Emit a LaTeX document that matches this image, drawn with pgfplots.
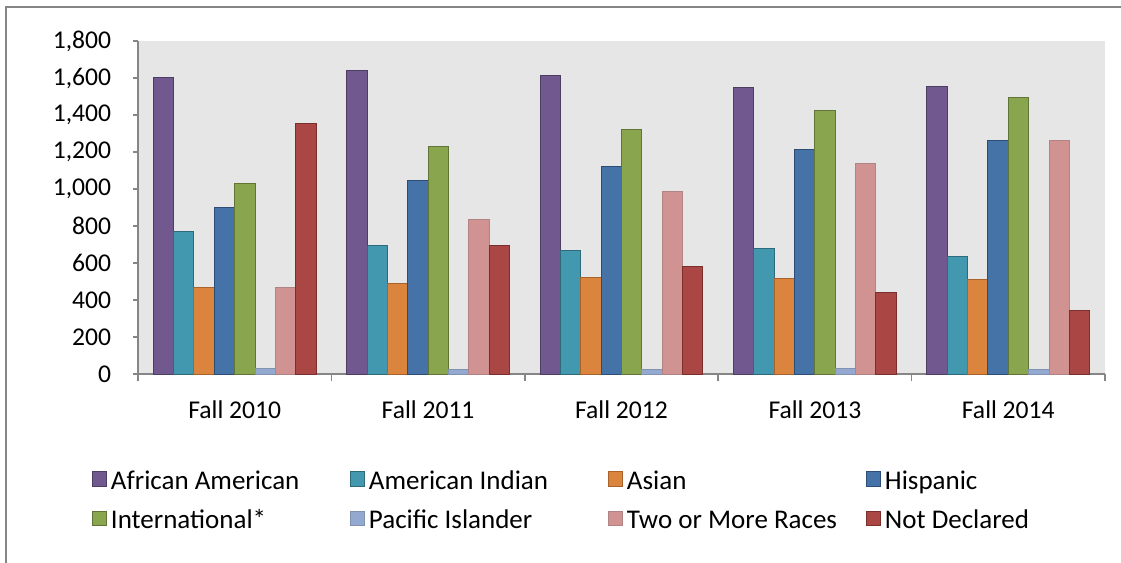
\documentclass[border=0pt]{standalone}
\usepackage{fontspec}
\setmainfont{Carlito}
\usepackage{pgfplots}
\pgfplotsset{compat=1.18}
\definecolor{axisgray}{HTML}{868686}
\definecolor{plotbg}{HTML}{E6E6E6}
\definecolor{cAA}{HTML}{71588F}\definecolor{dAA}{HTML}{4E3D63}
\definecolor{cAI}{HTML}{4198AF}\definecolor{dAI}{HTML}{2D6A7A}
\definecolor{cAS}{HTML}{DB843D}\definecolor{dAS}{HTML}{A9622A}
\definecolor{cHI}{HTML}{4572A7}\definecolor{dHI}{HTML}{2C4D75}
\definecolor{cIN}{HTML}{89A54E}\definecolor{dIN}{HTML}{5F7435}
\definecolor{cPI}{HTML}{93A9CF}\definecolor{dPI}{HTML}{8191B0}
\definecolor{cTW}{HTML}{D19392}\definecolor{dTW}{HTML}{B08484}
\definecolor{cND}{HTML}{AA4643}\definecolor{dND}{HTML}{7A2F2D}
\begin{document}
\fontsize{12.8}{15}\selectfont
\begin{tikzpicture}
\useasboundingbox (0,0) rectangle (560.5pt,281.5pt);
\draw[color=axisgray, line width=1pt] (2.75pt,0) -- (2.75pt,277.75pt) -- (560.5pt,277.75pt);
\begin{axis}[
  at={(69pt,94.5pt)}, anchor=south west,
  scale only axis, width=483.5pt, height=166.5pt,
  ybar=0pt, bar width=10.18pt,
  every axis plot post/.append style={legend image code/.code={\draw[##1, line width=0.5pt] (0pt,-2pt) rectangle (7.25pt,5.25pt);}},
  xmin=-0.5, xmax=4.5, ymin=0, ymax=1800,
  ytick={0,200,...,1800},
  xtick={0,1,2,3,4},
  xticklabels={Fall 2010,Fall 2011,Fall 2012,Fall 2013,Fall 2014},
  major x tick style={draw=none},
  minor xtick={-0.5,0.5,1.5,2.5,3.5,4.5},
  tick align=outside, major tick length=2.5pt, minor tick length=3.5pt,
  axis x line*=bottom, axis y line*=left,
  axis line style={-, draw=axisgray, line width=0.75pt},
  tick style={axisgray, line width=0.75pt},
  axis background/.style={fill=plotbg},
  /pgf/number format/assume math mode=true,
  /pgf/number format/1000 sep={,},
  scaled y ticks=false,
  ticklabel style={font=\fontsize{12.8}{15}\selectfont},
  yticklabel style={xshift=-6.5pt},
  xticklabel style={yshift=-6.5pt},
  legend columns=4,
  legend style={at={(-0.0476,-0.2853)}, anchor=north west, draw=none, fill=none,
    inner sep=0pt, outer sep=0pt, row sep=6.75pt, column sep=0pt,
    font=\fontsize{13.5}{16}\selectfont,
    nodes={inner sep=0pt, text height=10pt, text depth=3pt},
    /tikz/every odd column/.append style={column sep=1.75pt}},
]
\addplot[fill=cAA, draw=dAA, line width=0.5pt] coordinates {(0,1605) (1,1639) (2,1611) (3,1548) (4,1553)};
\addlegendentry{\makebox[119.5pt][l]{African American}}
\addplot[fill=cAI, draw=dAI, line width=0.5pt] coordinates {(0,768) (1,697) (2,665) (3,676) (4,636)};
\addlegendentry{\makebox[119.5pt][l]{American Indian}}
\addplot[fill=cAS, draw=dAS, line width=0.5pt] coordinates {(0,470) (1,490) (2,519) (3,515) (4,510)};
\addlegendentry{\makebox[119.5pt][l]{Asian}}
\addplot[fill=cHI, draw=dHI, line width=0.5pt] coordinates {(0,901) (1,1048) (2,1123) (3,1215) (4,1261)};
\addlegendentry{\makebox[119.5pt][l]{Hispanic}}
\addplot[fill=cIN, draw=dIN, line width=0.5pt] coordinates {(0,1029) (1,1232) (2,1320) (3,1425) (4,1493)};
\addlegendentry{\makebox[119.5pt][l]{International*}}
\addplot[fill=cPI, draw=dPI, line width=0.5pt] coordinates {(0,32) (1,23) (2,24) (3,28) (4,26)};
\addlegendentry{\makebox[119.5pt][l]{Pacific Islander}}
\addplot[fill=cTW, draw=dTW, line width=0.5pt] coordinates {(0,465) (1,836) (2,986) (3,1138) (4,1262)};
\addlegendentry{\makebox[119.5pt][l]{Two or More Races}}
\addplot[fill=cND, draw=dND, line width=0.5pt] coordinates {(0,1352) (1,696) (2,582) (3,443) (4,345)};
\addlegendentry{\makebox[119.5pt][l]{Not Declared}}
\end{axis}
\end{tikzpicture}
\end{document}
